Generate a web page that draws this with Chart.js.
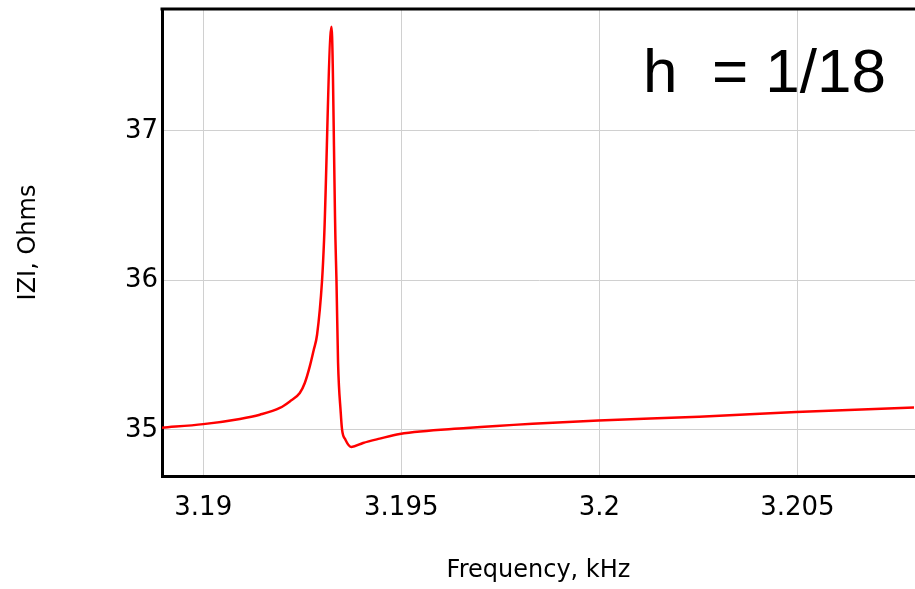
<!DOCTYPE html>
<html>
<head>
<meta charset="utf-8">
<script src="https://cdn.jsdelivr.net/npm/chart.js@4"></script>
<style>
  html, body { margin: 0; padding: 0; background: #fff; }
  #wrap { width: 915px; height: 589px; position: relative; }
</style>
</head>
<body>
<div id="wrap"><canvas id="zChart"></canvas></div>
<script>
/*===============
data
====================*/
const freqKHz = [
    3.188959, 3.19, 3.190925, 3.191429, 3.191934, 3.192186, 3.192438, 3.192564,
    3.19269, 3.192791, 3.192874, 3.193, 3.193051, 3.193238, 3.193338,
    3.193364, 3.193404, 3.193472, 3.193505, 3.19359, 3.193742, 3.194034,
    3.194455, 3.19496, 3.196649, 3.198313, 3.199977, 3.202523, 3.20497, 3.207945
];
const impedance = [
    35.015, 35.039, 35.074, 35.102, 35.147, 35.191, 35.247, 35.314,
    35.425, 35.537, 35.637, 36.0, 36.272, 37.697, 36.272,
    36.0, 35.45, 35.114, 35.002, 34.935, 34.886, 34.913,
    34.942, 34.973, 35.013, 35.042, 35.064, 35.089, 35.12, 35.151
];
const xTicks = [3.19, 3.195, 3.2, 3.205];
const yTicks = [35, 36, 37];
const noteText = 'h  = 1/18';

const points = freqKHz.map((f, i) => ({ x: f, y: impedance[i] }));

/*===============
frame + note
====================*/
const framePlugin = {
    id: 'frame',
    afterDraw(chart) {
        const { ctx, chartArea } = chart;
        ctx.save();
        ctx.strokeStyle = '#000';
        ctx.lineWidth = 3;
        ctx.beginPath();
        ctx.moveTo(chartArea.left - 1.5, chartArea.top);
        ctx.lineTo(chartArea.right, chartArea.top);
        ctx.stroke();
        ctx.font = '62px "Liberation Sans", Arial, sans-serif';
        ctx.fillStyle = '#000';
        ctx.textAlign = 'right';
        ctx.textBaseline = 'alphabetic';
        ctx.fillText(noteText, 886, 92);
        ctx.restore();
    }
};

const tickFont = { family: '"DejaVu Sans", sans-serif', size: 26 };
const titleFont = { family: '"DejaVu Sans", sans-serif', size: 24 };

const zChart = document.getElementById('zChart');
if (zChart) {
    new Chart(zChart, {
        type: 'line',
        data: {
            datasets: [{
                label: '|Z|',
                data: points,
                borderColor: '#ff0000',
                borderWidth: 2.5,
                pointRadius: 0,
                fill: false,
                cubicInterpolationMode: 'monotone'
            }]
        },
        options: {
            responsive: true,
            maintainAspectRatio: false,
            animation: false,
            layout: { padding: { top: 9, right: 0, bottom: 0, left: 0 } },
            plugins: {
                legend: { display: false },
                tooltip: { enabled: false }
            },
            scales: {
                x: {
                    type: 'linear',
                    min: 3.188959,
                    max: 3.20797,
                    afterBuildTicks: (axis) => { axis.ticks = xTicks.map(v => ({ value: v })); },
                    afterFit: (axis) => {
                        axis.height = 113;
                        axis.paddingLeft = 0;
                        axis.paddingRight = 0;
                    },
                    grid: { color: '#d0d0d0', lineWidth: 1, drawTicks: false },
                    border: { color: '#000', width: 3 },
                    ticks: {
                        color: '#000',
                        font: tickFont,
                        padding: 17,
                        maxRotation: 0,
                        callback: (v) => String(+v.toFixed(3))
                    },
                    title: {
                        display: true,
                        text: 'Frequency, kHz',
                        color: '#000',
                        font: titleFont,
                        padding: { top: 0, bottom: 4 }
                    }
                },
                y: {
                    type: 'linear',
                    min: 34.692,
                    max: 37.816,
                    afterBuildTicks: (axis) => { axis.ticks = yTicks.map(v => ({ value: v })); },
                    afterFit: (axis) => {
                        axis.width = 162;
                        axis.paddingTop = 0;
                        axis.paddingBottom = 0;
                    },
                    grid: { color: '#d0d0d0', lineWidth: 1, drawTicks: false },
                    border: { color: '#000', width: 3 },
                    ticks: {
                        color: '#000',
                        font: tickFont,
                        padding: 4,
                        callback: (v) => String(v)
                    },
                    title: {
                        display: true,
                        text: 'IZI, Ohms',
                        color: '#000',
                        font: titleFont,
                        padding: { top: 14, bottom: 0 }
                    }
                }
            }
        },
        plugins: [framePlugin]
    });
}
</script>
</body>
</html>
